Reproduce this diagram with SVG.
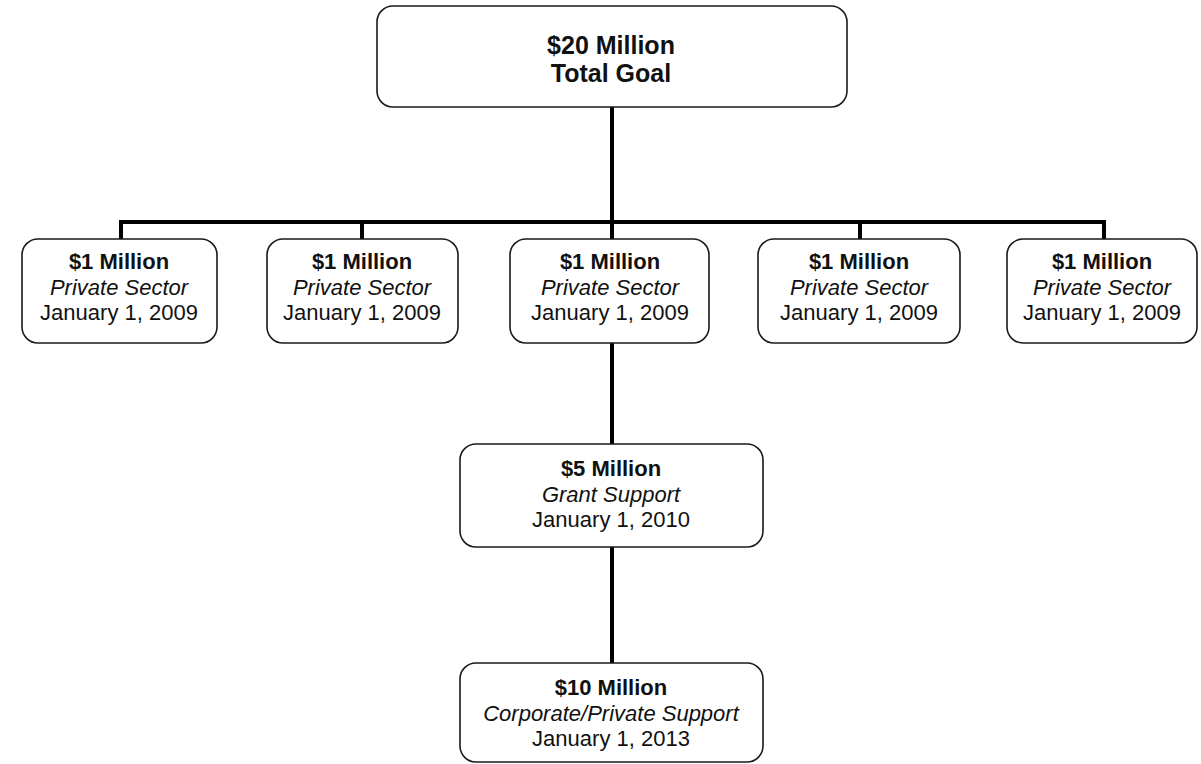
<svg xmlns="http://www.w3.org/2000/svg" width="1201" height="764" viewBox="0 0 1201 764">
<style>
.box{fill:#fff;stroke:#1a1a1a;stroke-width:1.6}
.t{font-family:"Liberation Sans",Arial,sans-serif;fill:#111;text-anchor:middle;font-size:22px}
.b{font-weight:bold}
.i{font-style:italic}
.big{font-size:25px;font-weight:bold}
.c{fill:none;stroke:#000;stroke-width:4}
</style>
<rect width="1201" height="764" fill="#fff"/>
<g id="connectors">
<path class="c" d="M612 107V222M121 240V222H1104V240M362 222V240M860 222V240M612 222V240"/>
<path class="c" d="M612 343V445"/>
<path class="c" d="M612 547V663"/>
</g>
<g id="goal">
<rect class="box" x="377" y="6" width="470" height="101" rx="16"/>
<text class="t big" x="611" y="54">$20 Million</text>
<text class="t big" x="611" y="82">Total Goal</text>
</g>
<g id="p1">
<rect class="box" x="22" y="239" width="195" height="104" rx="16"/>
<text class="t b" x="119" y="269">$1 Million</text>
<text class="t i" x="119" y="295">Private Sector</text>
<text class="t" x="119" y="320">January 1, 2009</text>
</g>
<g id="p2">
<rect class="box" x="267" y="239" width="191" height="104" rx="16"/>
<text class="t b" x="362" y="269">$1 Million</text>
<text class="t i" x="362" y="295">Private Sector</text>
<text class="t" x="362" y="320">January 1, 2009</text>
</g>
<g id="p3">
<rect class="box" x="510" y="239" width="199" height="104" rx="16"/>
<text class="t b" x="610" y="269">$1 Million</text>
<text class="t i" x="610" y="295">Private Sector</text>
<text class="t" x="610" y="320">January 1, 2009</text>
</g>
<g id="p4">
<rect class="box" x="758" y="239" width="202" height="104" rx="16"/>
<text class="t b" x="859" y="269">$1 Million</text>
<text class="t i" x="859" y="295">Private Sector</text>
<text class="t" x="859" y="320">January 1, 2009</text>
</g>
<g id="p5">
<rect class="box" x="1007" y="239" width="190" height="104" rx="16"/>
<text class="t b" x="1102" y="269">$1 Million</text>
<text class="t i" x="1102" y="295">Private Sector</text>
<text class="t" x="1102" y="320">January 1, 2009</text>
</g>
<g id="grant">
<rect class="box" x="460" y="444" width="303" height="103" rx="16"/>
<text class="t b" x="611" y="476">$5 Million</text>
<text class="t i" x="611" y="502">Grant Support</text>
<text class="t" x="611" y="527">January 1, 2010</text>
</g>
<g id="corporate">
<rect class="box" x="460" y="663" width="303" height="99" rx="16"/>
<text class="t b" x="611" y="695">$10 Million</text>
<text class="t i" x="611" y="721">Corporate/Private Support</text>
<text class="t" x="611" y="746">January 1, 2013</text>
</g>
</svg>
